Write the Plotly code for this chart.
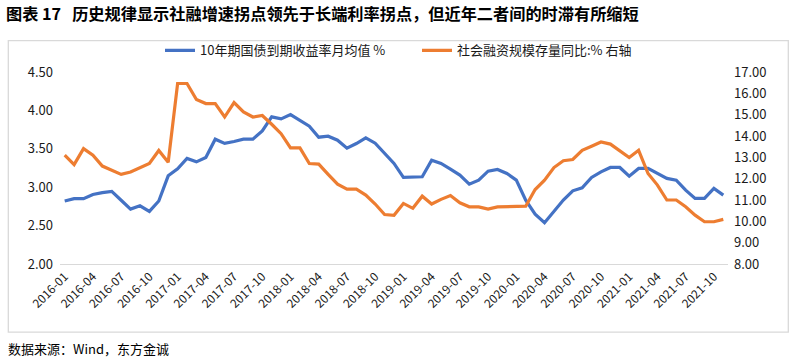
import plotly.graph_objects as go

months = [f"{y}-{m:02d}" for y in range(2016, 2022) for m in range(1, 13)][:71]  # 2016-01 .. 2021-11

bond_yield_10y = [
    2.82, 2.85, 2.85, 2.905, 2.93, 2.945, 2.83, 2.715, 2.758, 2.685, 2.82, 3.148,
    3.24, 3.374, 3.33, 3.387, 3.625, 3.57, 3.595, 3.625, 3.625, 3.734, 3.916, 3.89,
    3.946, 3.873, 3.795, 3.651, 3.664, 3.612, 3.508, 3.569, 3.643, 3.573, 3.447, 3.309,
    3.127, 3.127, 3.136, 3.352, 3.309, 3.235, 3.157, 3.04, 3.092, 3.209, 3.231, 3.179,
    3.092, 2.832, 2.65, 2.537, 2.68, 2.832, 2.953, 2.992, 3.127, 3.20, 3.257, 3.257,
    3.144, 3.244, 3.244, 3.179, 3.114, 3.092, 2.962, 2.854, 2.854, 2.984, 2.897,
]

tsf_stock_yoy = [
    13.10, 12.66, 13.41, 13.10, 12.59, 12.40, 12.20, 12.31, 12.51, 12.71, 13.32, 12.77,
    16.46, 16.46, 15.71, 15.52, 15.52, 14.89, 15.57, 15.13, 14.89, 14.96, 14.55, 14.11,
    13.44, 13.44, 12.71, 12.68, 12.20, 11.74, 11.51, 11.51, 11.23, 10.81, 10.32, 10.28,
    10.84, 10.61, 11.18, 10.81, 11.03, 11.21, 10.87, 10.68, 10.68, 10.57, 10.68, 10.68,
    10.71, 10.71, 11.49, 11.93, 12.52, 12.84, 12.90, 13.33, 13.52, 13.72, 13.62, 13.30,
    12.99, 13.33, 12.24, 11.70, 11.00, 11.00, 10.68, 10.29, 9.98, 9.98, 10.09,
]

x_ticks = months[::3]
left_ticks = [2.0, 2.5, 3.0, 3.5, 4.0, 4.5]
right_ticks = [8, 9, 10, 11, 12, 13, 14, 15, 16, 17]

name_blue = "10年期国债到期收益率月均值 %"
name_orange = "社会融资规模存量同比:% 右轴"

FONT = "Noto Sans CJK SC"
TXT = "#1a1a1a"

fig = go.Figure()
fig.add_trace(go.Scatter(x=months, y=bond_yield_10y, name=name_blue, mode="lines",
                         line=dict(color="#4472C4", width=3.2), yaxis="y"))
fig.add_trace(go.Scatter(x=months, y=tsf_stock_yoy, name=name_orange, mode="lines",
                         line=dict(color="#ED7D31", width=3.2), yaxis="y2"))

L, R, T, B = 60, 69, 71.7, 99
W, H = 797, 363
pw, ph = W - L - R, H - T - B

def px(xp):
    return (xp - L) / pw

def py(yp):
    return (H - B - yp) / ph

fig.update_layout(
    width=W, height=H,
    margin=dict(l=L, r=R, t=T, b=B, pad=0),
    paper_bgcolor="white", plot_bgcolor="white",
    font=dict(family=FONT, size=13, color=TXT),
    showlegend=True,
    legend=dict(orientation="h", x=px(160), y=py(50), xanchor="left", yanchor="middle",
                font=dict(size=13, color=TXT), itemwidth=30, entrywidth=212,
                bgcolor="rgba(0,0,0,0)", tracegroupgap=0),
    title=dict(text="<b>图表 17   历史规律显示社融增速拐点领先于长端利率拐点，但近年二者间的时滞有所缩短</b>",
               x=6 / W, y=1 - 14 / H, xref="container", yref="container",
               xanchor="left", yanchor="middle",
               font=dict(family=FONT, size=16.2, color="#000000")),
    xaxis=dict(type="category", range=[-0.5, len(months) - 0.5],
               tickvals=x_ticks, ticktext=x_ticks, tickangle=-45,
               tickfont=dict(size=12, color=TXT), showgrid=False,
               showline=True, linecolor="#D9D9D9", linewidth=1, ticks="", zeroline=False),
    yaxis=dict(range=[2.0, 4.5], tickvals=left_ticks, tickformat=".2f",
               tickfont=dict(size=13, color=TXT), showgrid=False, zeroline=False,
               showline=False, ticks="", ticklabelstandoff=6),
    yaxis2=dict(range=[8, 17], tickvals=right_ticks, tickformat=".2f", overlaying="y", side="right",
                tickfont=dict(size=13, color=TXT), showgrid=False, zeroline=False,
                showline=False, ticks="", ticklabelstandoff=5),
    shapes=[dict(type="rect", xref="paper", yref="paper",
                 x0=px(8.3), x1=px(788.3), y0=py(332.3), y1=py(40.3),
                 line=dict(color="#D9D9D9", width=1.3), fillcolor="rgba(0,0,0,0)", layer="above")],
    annotations=[dict(text="数据来源：Wind，东方金诚", xref="paper", yref="paper",
                      x=px(6), y=py(349), xanchor="left", yanchor="middle", showarrow=False,
                      font=dict(family=FONT, size=13, color="#000000"))],
)

fig.write_html("out.html", config={"displayModeBar": False},
               post_script="document.body.style.margin='0';document.body.style.overflow='hidden';")
